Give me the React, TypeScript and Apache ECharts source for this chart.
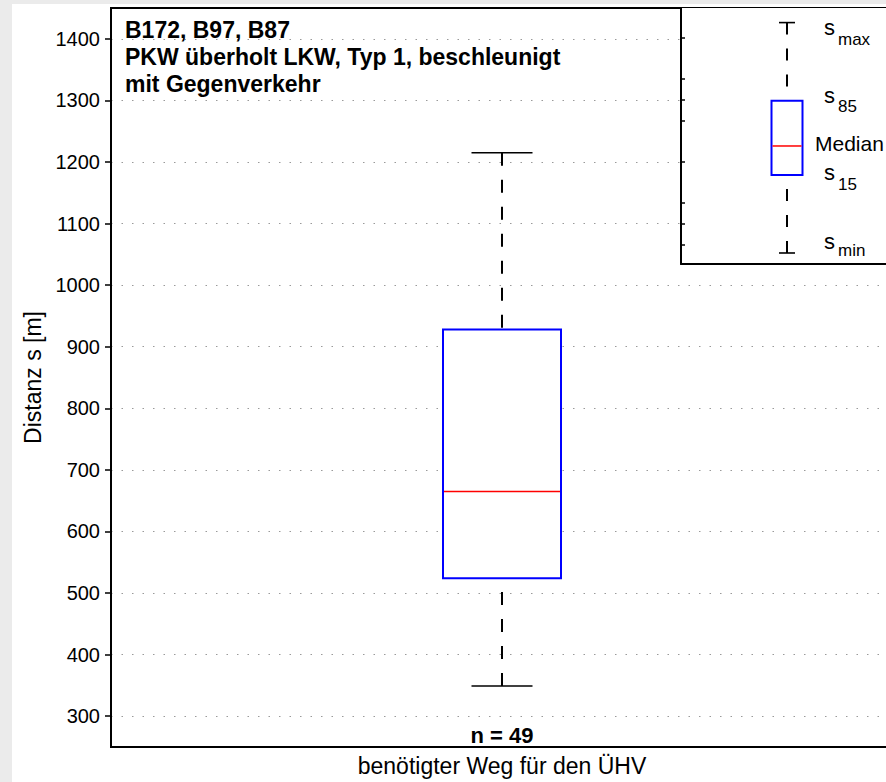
import React, { useEffect, useRef } from "react";
import * as echarts from "echarts";

// ---------- data ----------
const N = 49;
const categories = [`n = ${N}`];
// [s_min, s_15, median, s_85, s_max] in m
const distanceStats = [349, 524, 665, 928, 1215];
const yRange = [250, 1450];
const yTicks = [300, 400, 500, 600, 700, 800, 900, 1000, 1100, 1200, 1300, 1400];
const titleLines = [
  "B172, B97, B87",
  "PKW überholt LKW, Typ 1, beschleunigt",
  "mit Gegenverkehr",
];
const yAxisName = "Distanz s [m]";
const xAxisName = "benötigter Weg für den ÜHV";

// legend (schematic box plot)
const legendCategories = [""];
const legendStats = [4.3, 34.8, 46.1, 63.8, 94.3];
const legendRange = [0, 100];
const legendTicks = [7.4, 15.6, 23.8, 39.8, 55.9, 64.1, 72.3, 88.3];
const legendMain = ["s", "s", "Median", "s", "s"];
const legendSub = ["max", "85", "", "15", "min"];

const FONT = '"Liberation Sans", Arial, Helvetica, sans-serif';

function makeBoxRenderer(boxW: number, capW: number, dash: number[]) {
  return (params: any, api: any) => {
    const c = api.value(0);
    const pt = (v: number) => api.coord([c, v]);
    const [x, yMin] = pt(api.value(1));
    const yQ1 = pt(api.value(2))[1];
    const yMed = pt(api.value(3))[1];
    const yQ3 = pt(api.value(4))[1];
    const yMax = pt(api.value(5))[1];
    const whisker = { stroke: "#000", lineWidth: 2, lineDash: dash, fill: null };
    const cap = { stroke: "#000", lineWidth: 1.6, fill: null };
    return {
      type: "group",
      children: [
        { type: "line", shape: { x1: x, y1: yMax, x2: x, y2: yQ3 }, style: whisker },
        { type: "line", shape: { x1: x, y1: yMin, x2: x, y2: yQ1 }, style: whisker },
        { type: "line", shape: { x1: x - capW / 2, y1: yMax, x2: x + capW / 2, y2: yMax }, style: cap },
        { type: "line", shape: { x1: x - capW / 2, y1: yMin, x2: x + capW / 2, y2: yMin }, style: cap },
        {
          type: "rect",
          shape: { x: x - boxW / 2, y: yQ3, width: boxW, height: yQ1 - yQ3 },
          style: { fill: "#fff", stroke: "#0000ff", lineWidth: 2 },
        },
        {
          type: "line",
          shape: { x1: x - boxW / 2 + 1, y1: yMed, x2: x + boxW / 2 - 1, y2: yMed },
          style: { stroke: "#ff0000", lineWidth: 1.5 },
        },
      ],
    };
  };
}

export default function App() {
  const ref = useRef<HTMLDivElement>(null);

  useEffect(() => {
    if (!ref.current) return;
    const chart = echarts.init(ref.current, null, { renderer: "svg" });

    // legend label positions (chart px)
    const lx = 812;
    const sY = [23.5, 91, 0, 168, 237];
    const subY = [35, 102, 0, 180, 246.5];
    const legendTexts: any[] = [];
    legendMain.forEach((m, i) => {
      if (legendSub[i] === "") {
        legendTexts.push({
          type: "text",
          x: 803,
          y: 139.5,
          z: 20,
          style: { text: m, fontSize: 21, fontFamily: FONT, fill: "#000", verticalAlign: "middle", align: "left" },
        });
      } else {
        legendTexts.push({
          type: "text",
          x: lx,
          y: sY[i],
          z: 20,
          style: { text: m, fontSize: 22, fontFamily: FONT, fill: "#000", verticalAlign: "middle", align: "left" },
        });
        legendTexts.push({
          type: "text",
          x: lx + 14,
          y: subY[i],
          z: 20,
          style: { text: legendSub[i], fontSize: 17, fontFamily: FONT, fill: "#000", verticalAlign: "middle", align: "left" },
        });
      }
    });

    const option: any = {
      animation: false,
      backgroundColor: "#fff",
      textStyle: { fontFamily: FONT },
      grid: [
        { left: 99, top: 4, width: 782, height: 739, show: true, borderColor: "#000", borderWidth: 2, backgroundColor: "#fff" },
        { left: 669, top: 4, width: 212, height: 256, show: true, borderWidth: 0, backgroundColor: "#fff", z: 1 },
      ],
      xAxis: [
        {
          type: "category",
          gridIndex: 0,
          data: categories,
          boundaryGap: true,
          axisLine: { show: true, lineStyle: { color: "#000", width: 2 } },
          axisTick: { show: false },
          axisLabel: { inside: true, margin: 1, fontSize: 22, fontWeight: "bold", color: "#000", fontFamily: FONT },
          splitLine: { show: false },
          name: xAxisName,
          nameLocation: "middle",
          nameGap: 7,
          nameTextStyle: { fontSize: 23, color: "#000", fontFamily: FONT, verticalAlign: "top" },
        },
        {
          type: "category",
          gridIndex: 1,
          data: legendCategories,
          boundaryGap: true,
          z: 3,
          axisLine: { show: true, lineStyle: { color: "#000", width: 2 } },
          axisTick: { show: false },
          axisLabel: { show: false },
          splitLine: { show: false },
        },
      ],
      yAxis: [
        {
          type: "value",
          gridIndex: 0,
          min: yRange[0],
          max: yRange[1],
          axisLine: { show: true, lineStyle: { color: "#000", width: 2 } },
          axisTick: { show: true, inside: false, length: 6, customValues: yTicks, lineStyle: { color: "#000", width: 1.5 } },
          axisLabel: {
            customValues: yTicks,
            margin: 11,
            fontSize: 20,
            color: "#000",
            fontFamily: FONT,
            formatter: (v: number) => String(v),
          },
          splitLine: { show: true, lineStyle: { color: "#9a9a9a", width: 1, type: [1.5, 9] } },
          name: yAxisName,
          nameLocation: "middle",
          nameGap: 67,
          nameRotate: 90,
          nameTextStyle: { fontSize: 23, color: "#000", fontFamily: FONT },
        },
        {
          type: "value",
          gridIndex: 1,
          min: legendRange[0],
          max: legendRange[1],
          z: 3,
          axisLine: { show: true, lineStyle: { color: "#000", width: 2 } },
          axisTick: { show: true, inside: true, length: 4, customValues: legendTicks, lineStyle: { color: "#000", width: 1.5 } },
          axisLabel: { show: false },
          splitLine: { show: false },
        },
      ],
      series: [
        {
          type: "custom",
          xAxisIndex: 0,
          yAxisIndex: 0,
          renderItem: makeBoxRenderer(118, 61, [13, 14]),
          data: [[0, ...distanceStats]],
          z: 5,
        },
        {
          type: "custom",
          xAxisIndex: 1,
          yAxisIndex: 1,
          renderItem: makeBoxRenderer(31, 16, [12, 14]),
          data: [[0, ...legendStats]],
          z: 5,
        },
      ],
      graphic: [
        {
          type: "text",
          x: 113,
          y: 12,
          z: 20,
          style: {
            text: titleLines.join("\n"),
            fontSize: 23,
            fontWeight: "bold",
            fontFamily: FONT,
            lineHeight: 27,
            fill: "#000",
          },
        },
        ...legendTexts,
      ],
    };

    chart.setOption(option);
    return () => chart.dispose();
  }, []);

  return (
    <div
      style={{
        position: "fixed",
        left: 0,
        top: 0,
        width: 886,
        height: 782,
        overflow: "hidden",
        background: "#ebebeb",
      }}
    >
      <div
        ref={ref}
        style={{ position: "absolute", left: 12, top: 4, width: 884, height: 778 }}
      />
    </div>
  );
}
